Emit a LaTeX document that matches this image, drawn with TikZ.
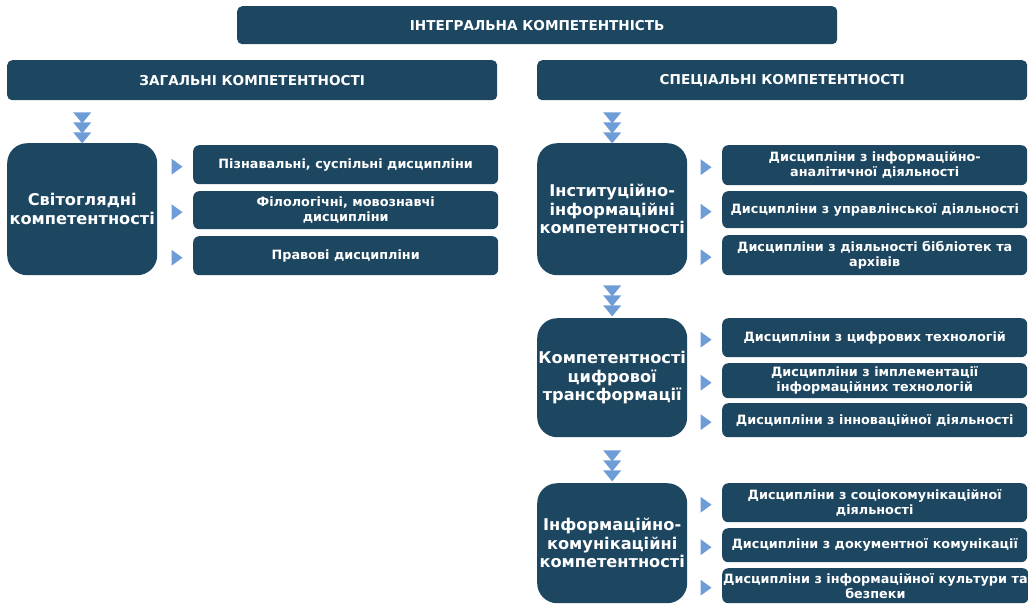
\documentclass[tikz,border=0pt]{standalone}
\usepackage{fontspec}
\setmainfont{DejaVu Sans}
\usetikzlibrary{calc}
\definecolor{navy}{HTML}{1D4660}
\definecolor{tri}{HTML}{6E9CD6}
\begin{document}
\begin{tikzpicture}[x=1pt,y=-1pt,
  box/.style={fill=navy, text=white, rounded corners=6pt, align=center, anchor=north west, inner sep=1pt,
    minimum width=305pt, font=\bfseries\fontsize{12.8}{15}\selectfont},
  big/.style={box, rounded corners=20pt, minimum width=150pt, font=\bfseries\fontsize{16.2}{18.5}\selectfont},
  hdr/.style={box, rounded corners=5pt, font=\bfseries\fontsize{13.6}{15}\selectfont},
  tri3/.pic={\foreach \d in {0,10,20}{\fill[tri] (-9,\d) -- (9,\d) -- (0,\d+11) -- cycle;}},
  tri1/.pic={\fill[tri] (-5.5,-8) -- (5.5,0) -- (-5.5,8) -- cycle;}]
\useasboundingbox (0,0) rectangle (1028,606);
% headers
\node[hdr, minimum width=600pt, minimum height=38pt] (top) at (237,6) {ІНТЕГРАЛЬНА КОМПЕТЕНТНІСТЬ};
\node[hdr, minimum width=490pt, minimum height=40pt] (hL) at (7,60) {ЗАГАЛЬНІ КОМПЕТЕНТНОСТІ};
\node[hdr, minimum width=490pt, minimum height=40pt] (hR) at (537,60) {СПЕЦІАЛЬНІ КОМПЕТЕНТНОСТІ};
% left group
\node[big, minimum height=132pt] (b1) at (7,143) {Світоглядні\\компетентності};
\node[box, minimum height=39pt] (l1) at (193,145) {Пізнавальні, суспільні дисципліни};
\node[box, minimum height=38pt] (l2) at (193,191) {Філологічні, мовознавчі\\дисципліни};
\node[box, minimum height=39pt] (l3) at (193,236) {Правові дисципліни};
% right group 1
\node[big, minimum height=132pt] (b2) at (537,143) {Інституційно-\\інформаційні\\компетентності};
\node[box, minimum height=40pt] (r1) at (722,145) {Дисципліни з інформаційно-\\аналітичної діяльності};
\node[box, minimum height=37pt] (r2) at (722,191) {Дисципліни з управлінської діяльності};
\node[box, minimum height=40pt] (r3) at (722,235) {Дисципліни з діяльності бібліотек та\\архівів};
% right group 2
\node[big, minimum height=119pt] (b3) at (537,318) {Компетентності\\цифрової\\трансформації};
\node[box, minimum height=39pt] (r4) at (722,318) {Дисципліни з цифрових технологій};
\node[box, minimum height=35pt] (r5) at (722,363) {Дисципліни з імплементації\\інформаційних технологій};
\node[box, minimum height=34pt] (r6) at (722,403) {Дисципліни з інноваційної діяльності};
% right group 3
\node[big, minimum height=120pt] (b4) at (537,483) {Інформаційно-\\комунікаційні\\компетентності};
\node[box, minimum height=39pt] (r7) at (722,483) {Дисципліни з соціокомунікаційної\\діяльності};
\node[box, minimum height=34pt] (r8) at (722,528) {Дисципліни з документної комунікації};
\node[box, minimum height=35pt] (r9) at (722,568) {Дисципліни з інформаційної культури та\\безпеки};
% down arrows
\pic at ($(hL.south -| b1.north)+(0,12)$) {tri3};
\pic at ($(hR.south -| b2.north)+(0,12)$) {tri3};
\pic at ($(b2.south)+(0,10)$) {tri3};
\pic at ($(b3.south)+(0,13)$) {tri3};
% side arrows
\foreach \s in {l1,l2,l3,r1,r2,r3,r4,r5,r6,r7,r8,r9}
  \pic at ($(\s.west)+(-16,2)$) {tri1};
\end{tikzpicture}
\end{document}
